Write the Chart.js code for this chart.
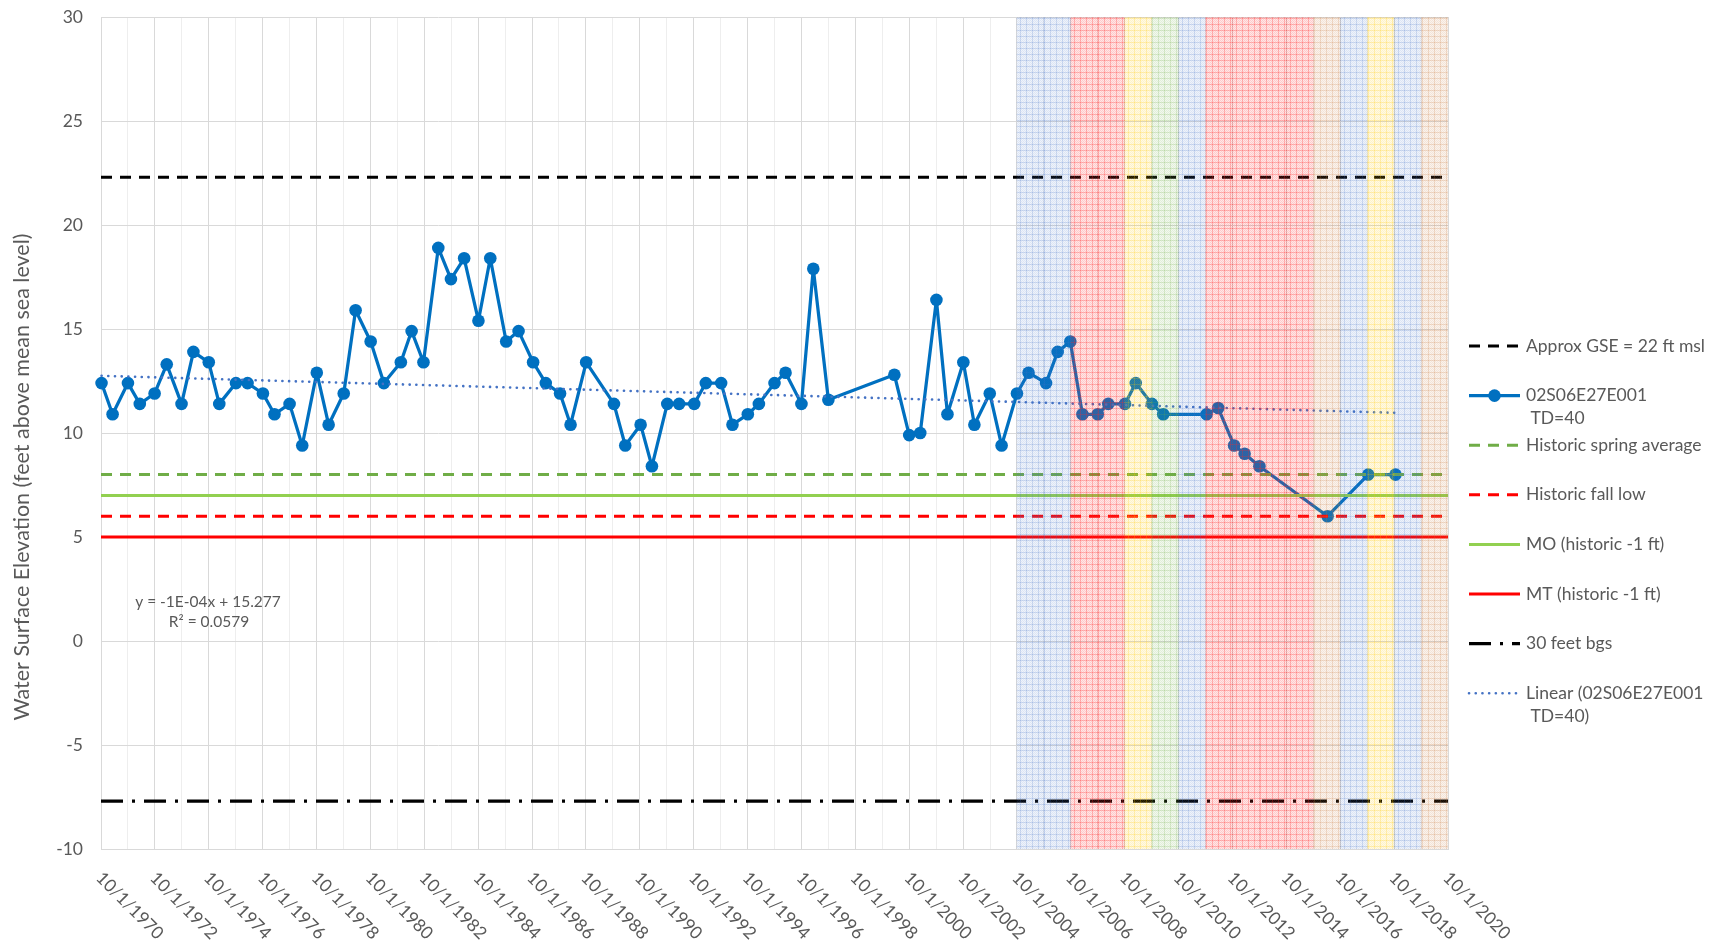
<!DOCTYPE html>
<html>
<head>
<meta charset="utf-8">
<script src="https://cdn.jsdelivr.net/npm/chart.js@4/dist/chart.umd.min.js"></script>
<style>
  html, body { margin: 0; padding: 0; background: #ffffff; }
  canvas { display: block; }
</style>
</head>
<body>
<canvas id="c" width="1710" height="943"></canvas>
<script>
// ---------------- DATA ----------------
// Measurement dates as decimal years, and water surface elevations (ft msl)
const wellDates = [
  1970.77, 1971.18, 1971.75, 1972.19, 1972.74, 1973.19, 1973.74, 1974.18, 1974.75, 1975.14,
  1975.76, 1976.19, 1976.76, 1977.19, 1977.75, 1978.22, 1978.76, 1979.20, 1979.76, 1980.20,
  1980.76, 1981.25, 1981.88, 1982.28, 1982.72, 1983.27, 1983.74, 1984.23, 1984.76, 1985.20,
  1985.79, 1986.25, 1986.79, 1987.26, 1987.79, 1988.18, 1988.76, 1989.79, 1990.21, 1990.78,
  1991.20, 1991.77, 1992.21, 1992.77, 1993.20, 1993.77, 1994.19, 1994.76, 1995.17, 1995.75,
  1996.16, 1996.75, 1997.19, 1997.75, 2000.20, 2000.75, 2001.16, 2001.76, 2002.17, 2002.76,
  2003.17, 2003.74, 2004.18, 2004.75, 2005.18, 2005.83, 2006.26, 2006.73, 2007.18, 2007.75,
  2008.14, 2008.76, 2009.16, 2009.76, 2010.18, 2011.79, 2012.22, 2012.81, 2013.20, 2013.75,
  2016.28, 2017.79, 2018.80
];
const wellLevels = [
  12.4, 10.9, 12.4, 11.4, 11.9, 13.3, 11.4, 13.9, 13.4, 11.4,
  12.4, 12.4, 11.9, 10.9, 11.4, 9.4, 12.9, 10.4, 11.9, 15.9,
  14.4, 12.4, 13.4, 14.9, 13.4, 18.9, 17.4, 18.4, 15.4, 18.4,
  14.4, 14.9, 13.4, 12.4, 11.9, 10.4, 13.4, 11.4, 9.4, 10.4,
  8.4, 11.4, 11.4, 11.4, 12.4, 12.4, 10.4, 10.9, 11.4, 12.4,
  12.9, 11.4, 17.9, 11.6, 12.8, 9.9, 10.0, 16.4, 10.9, 13.4,
  10.4, 11.9, 9.4, 11.9, 12.9, 12.4, 13.9, 14.4, 10.9, 10.9,
  11.4, 11.4, 12.4, 11.4, 10.9, 10.9, 11.2, 9.4, 9.0, 8.4,
  6.0, 8.0, 8.0
];
// Linear trendline end points (as drawn)
const trendDates = [1970.77, 2018.80];
const trendLevels = [12.75, 10.97];

// Reference levels (ft msl)
const gseLevel = 22.3;          // Approx GSE
const springAvgLevel = 8.0;     // Historic spring average
const fallLowLevel = 6.0;       // Historic fall low
const moLevel = 7.0;            // MO (historic -1 ft)
const mtLevel = 5.0;            // MT (historic -1 ft)
const bgs30Level = -7.7;        // 30 feet bgs

// Water-year shading bands (water year N runs 10/1/N-1 to 10/1/N)
const bandWaterYears = [2005, 2006, 2007, 2008, 2009, 2010, 2011, 2012, 2013, 2014, 2015, 2016, 2017, 2018, 2019, 2020];
const bandColorKeys  = ['blue','blue','red','red','yellow','green','blue','red','red','red','red','tan','blue','yellow','blue','tan'];

// Axis ticks
const xTickLabels = ['10/1/1970','10/1/1972','10/1/1974','10/1/1976','10/1/1978','10/1/1980','10/1/1982',
  '10/1/1984','10/1/1986','10/1/1988','10/1/1990','10/1/1992','10/1/1994','10/1/1996','10/1/1998',
  '10/1/2000','10/1/2002','10/1/2004','10/1/2006','10/1/2008','10/1/2010','10/1/2012','10/1/2014',
  '10/1/2016','10/1/2018','10/1/2020'];
const yTickValues = [-10, -5, 0, 5, 10, 15, 20, 25, 30];

// Labels
const seriesLabels = {
  gse: ['Approx GSE = 22 ft msl'],
  well: ['02S06E27E001', ' TD=40'],
  spring: ['Historic spring average'],
  fall: ['Historic fall low'],
  mo: ['MO (historic -1 ft)'],
  mt: ['MT (historic -1 ft)'],
  bgs: ['30 feet bgs'],
  trend: ['Linear (02S06E27E001', ' TD=40)']
};
const equationLines = ['y = -1E-04x + 15.277', 'R\u00B2 = 0.0579'];
const yAxisTitle = 'Water Surface Elevation (feet above mean sea level)';

// ---------------- HELPERS ----------------
function labelToValue(lbl) {
  const p = lbl.split('/').map(Number);
  return p[2] + (p[0] - 1) / 12;
}
const xTickValues = xTickLabels.map(labelToValue);
const xMin = xTickValues[0], xMax = xTickValues[xTickValues.length - 1];
const allGridValues = [];
for (let v = xMin; v <= xMax + 1e-6; v += 1) allGridValues.push(+v.toFixed(4));

const canvas = document.getElementById('c');
const mainCtx = canvas.getContext('2d');
const bandRGB = {
  blue: [68, 114, 196], red: [255, 40, 40], yellow: [255, 200, 0],
  green: [112, 173, 71], tan: [200, 120, 60]
};
const bandStrength = { blue: 0.85, red: 1.15, yellow: 1.0, green: 0.9, tan: 0.9 };
function makePattern(key) {
  const rgb = bandRGB[key].join(',');
  const a = bandStrength[key];
  const c = document.createElement('canvas');
  c.width = 6; c.height = 6;
  const g = c.getContext('2d');
  g.fillStyle = `rgba(${rgb},${0.10 * a})`;
  g.fillRect(0, 0, 6, 6);
  g.fillStyle = `rgba(${rgb},${0.13 * a})`;
  for (let yy = 0; yy < 6; yy++) for (let xx = 0; xx < 6; xx++) if ((xx + yy) % 2 === 0) g.fillRect(xx, yy, 1, 1);
  g.fillStyle = `rgba(${rgb},${0.22 * a})`;
  g.fillRect(0, 0, 6, 1);
  g.fillRect(0, 0, 1, 6);
  return mainCtx.createPattern(c, 'repeat');
}

// bar centred in the middle of each water year
const bandData = bandWaterYears.map(wy => ({ x: wy + 0.25, y: [-10, 30] }));
const bandFills = bandColorKeys.map(makePattern);
const toXY = (xs, ys) => xs.map((x, i) => ({ x, y: ys[i] }));
const hLine = v => [{ x: xMin, y: v }, { x: xMax, y: v }];

const FONT = 'Lato, "Open Sans", sans-serif';
const TEXT = '#595959';

const datasets = [
  { key: 'bands', type: 'bar', data: bandData, backgroundColor: bandFills, borderWidth: 0,
    categoryPercentage: 1, barPercentage: 1, order: 0 },
  { key: 'gse', data: hLine(gseLevel), borderColor: '#000000', borderWidth: 3, borderDash: [11, 8], pointRadius: 0, order: 3 },
  { key: 'well', data: toXY(wellDates, wellLevels), borderColor: '#0070C0', backgroundColor: '#0070C0', clip: 10,
    borderWidth: 3.25, borderJoinStyle: 'round', pointRadius: 6.3, pointBorderWidth: 0, pointBackgroundColor: '#0070C0', order: 10 },
  { key: 'spring', data: hLine(springAvgLevel), borderColor: '#70AD47', borderWidth: 3, borderDash: [11, 8], pointRadius: 0, order: 3 },
  { key: 'fall', data: hLine(fallLowLevel), borderColor: '#FF0000', borderWidth: 3, borderDash: [11, 8], pointRadius: 0, order: 3 },
  { key: 'mo', data: hLine(moLevel), borderColor: '#92D050', borderWidth: 3, pointRadius: 0, order: 3 },
  { key: 'mt', data: hLine(mtLevel), borderColor: '#FF0000', borderWidth: 3, pointRadius: 0, order: 3 },
  { key: 'bgs', data: hLine(bgs30Level), borderColor: '#000000', borderWidth: 3.2, borderDash: [22, 9, 3, 9], pointRadius: 0, order: 3 },
  { key: 'trend', data: toXY(trendDates, trendLevels), borderColor: '#4472C4', borderWidth: 2.6, borderDash: [0.1, 6.6],
    borderCapStyle: 'round', pointRadius: 0, order: 5, clip: 5 }
];
datasets.forEach(d => { if (d.type !== 'bar') { d.type = 'line'; d.fill = false; d.tension = 0; } });

// geometry
const PLOT = { left: 101, right: 1448, top: 17, bottom: 849 };

const decorPlugin = {
  id: 'decor',
  afterDraw(chart) {
    const { ctx, chartArea: a, scales: { x } } = chart;
    ctx.save();
    // x tick labels, rotated 45deg clockwise
    ctx.font = `17.5px ${FONT}`;
    ctx.fillStyle = TEXT;
    ctx.textAlign = 'left';
    ctx.textBaseline = 'middle';
    xTickLabels.forEach((lbl, i) => {
      const px = x.getPixelForValue(xTickValues[i]);
      ctx.save();
      ctx.translate(px - 2, a.bottom + 26);
      ctx.rotate(Math.PI / 4);
      ctx.fillText(lbl, 0, 0);
      ctx.restore();
    });
    // y axis title
    ctx.save();
    ctx.font = `21.5px ${FONT}`;
    ctx.textAlign = 'center';
    ctx.textBaseline = 'middle';
    ctx.translate(22, 477);
    ctx.rotate(-Math.PI / 2);
    ctx.fillText(yAxisTitle, 0, 0);
    ctx.restore();
    // trendline equation
    ctx.font = `15.5px ${FONT}`;
    ctx.textAlign = 'center';
    ctx.textBaseline = 'middle';
    ctx.fillText(equationLines[0], a.left + 107, a.top + 585);
    ctx.fillText(equationLines[1], a.left + 108, a.top + 605);
    // legend
    const order = ['gse', 'well', 'spring', 'fall', 'mo', 'mt', 'bgs', 'trend'];
    const lx0 = 1469, lx1 = 1520, tx = 1526, y0 = 346, dy = 49.6, lineH = 23;
    ctx.font = `17.5px ${FONT}`;
    ctx.textAlign = 'left';
    ctx.textBaseline = 'middle';
    order.forEach((k, i) => {
      const ds = chart.data.datasets.find(d => d.key === k);
      const yy = y0 + dy * i;
      ctx.save();
      ctx.strokeStyle = ds.borderColor;
      ctx.lineWidth = ds.borderWidth;
      ctx.setLineDash(ds.borderDash || []);
      ctx.lineCap = ds.borderCapStyle || 'butt';
      ctx.beginPath();
      ctx.moveTo(lx0, yy);
      ctx.lineTo(lx1, yy);
      ctx.stroke();
      if (ds.pointRadius > 0) {
        ctx.setLineDash([]);
        ctx.fillStyle = ds.pointBackgroundColor;
        ctx.beginPath();
        ctx.arc((lx0 + lx1) / 2, yy, ds.pointRadius, 0, Math.PI * 2);
        ctx.fill();
      }
      ctx.restore();
      ctx.fillStyle = TEXT;
      seriesLabels[k].forEach((t, j) => ctx.fillText(t, tx, yy + j * lineH));
    });
    ctx.restore();
  }
};

new Chart(canvas, {
  type: 'line',
  data: { datasets },
  plugins: [decorPlugin],
  options: {
    responsive: false,
    animation: false,
    events: [],
    layout: { padding: { left: 0, top: PLOT.top, right: 1710 - PLOT.right, bottom: 943 - PLOT.bottom } },
    plugins: { legend: { display: false }, tooltip: { enabled: false } },
    scales: {
      x: {
        type: 'linear', min: xMin, max: xMax, offset: false,
        afterBuildTicks: s => { s.ticks = allGridValues.map(v => ({ value: v })); },
        afterFit: s => { s.height = 0; s.paddingLeft = 0; s.paddingRight = 0; s.paddingTop = 0; s.paddingBottom = 0; },
        ticks: { display: false },
        grid: {
          offset: false, drawTicks: false, lineWidth: 1,
          color: c => {
            const v = c.tick ? c.tick.value : 0;
            const k = Math.round(v - xMin);
            return k % 2 === 0 ? '#D9D9D9' : '#EEEEEE';
          }
        },
        border: { display: true, color: '#D9D9D9', width: 1 }
      },
      y: {
        type: 'linear', min: yTickValues[0], max: yTickValues[yTickValues.length - 1],
        afterBuildTicks: s => { s.ticks = yTickValues.map(v => ({ value: v })); },
        afterFit: s => { s.width = PLOT.left; s.paddingTop = 0; s.paddingBottom = 0; s.paddingLeft = 0; s.paddingRight = 0; },
        ticks: { color: TEXT, font: { family: FONT, size: 17.5 }, padding: 18 },
        grid: { drawTicks: false, color: '#D9D9D9', lineWidth: 1 },
        border: { display: true, color: '#D9D9D9', width: 1 }
      }
    }
  }
});
</script>
</body>
</html>
